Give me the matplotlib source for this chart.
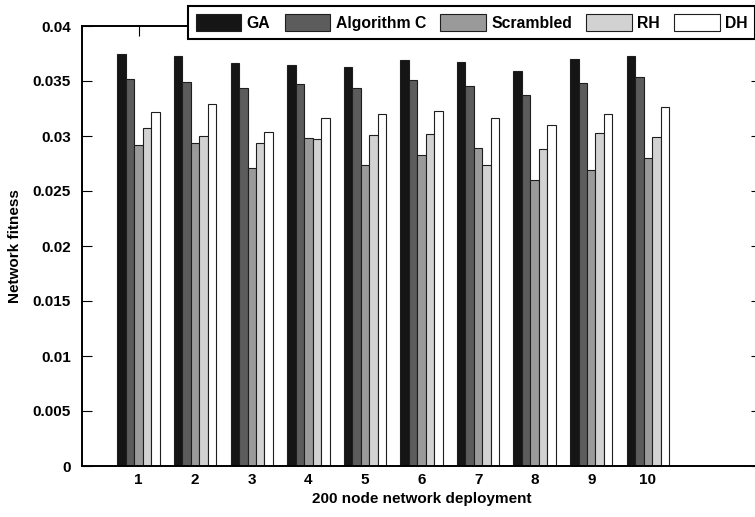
import numpy as np
import matplotlib
matplotlib.use("Agg")
import matplotlib.pyplot as plt

# Network fitness values for 10 deployments of a 200 node network
deployments = [1, 2, 3, 4, 5, 6, 7, 8, 9, 10]
ga = [0.0375, 0.0373, 0.0366, 0.0365, 0.0363, 0.0369, 0.0367, 0.0359, 0.0370, 0.0373]
alg_c = [0.0352, 0.0349, 0.0344, 0.0347, 0.0344, 0.0351, 0.0345, 0.0337, 0.0348, 0.0354]
scrambled = [0.0292, 0.0294, 0.0271, 0.0298, 0.0274, 0.0283, 0.0289, 0.0260, 0.0269, 0.0280]
rh = [0.0307, 0.0300, 0.0294, 0.0297, 0.0301, 0.0302, 0.0274, 0.0288, 0.0303, 0.0299]
dh = [0.0322, 0.0329, 0.0304, 0.0316, 0.0320, 0.0323, 0.0316, 0.0310, 0.0320, 0.0326]

series = [ga, alg_c, scrambled, rh, dh]
labels = ["GA", "Algorithm C", "Scrambled", "RH", "DH"]
colors = ["#151515", "#5c5c5c", "#9a9a9a", "#d2d2d2", "#ffffff"]

plt.rcParams['font.family'] = ['Liberation Sans', 'DejaVu Sans']
plt.rcParams['font.weight'] = 'bold'

fig = plt.figure(figsize=(7.55, 5.17), dpi=100)
ax = fig.add_axes([82 / 755, 1 - 466 / 517, 679 / 755, 440 / 517])

# Draw the grouped bars
width = 0.15
x = np.array(deployments)
for i, (vals, lab, col) in enumerate(zip(series, labels, colors)):
    offset = (i - 2) * width
    ax.bar(x + offset, vals, width, color=col, edgecolor="#1e1e1e",
           linewidth=0.8, label=lab)

ax.set_xlim(0, 12)
ax.set_ylim(0, 0.04)
ax.set_xticks(deployments)
ax.set_xticklabels([str(d) for d in deployments])
ax.set_yticks(np.arange(0, 0.0401, 0.005))
ax.set_yticklabels(["0", "0.005", "0.01", "0.015", "0.02", "0.025", "0.03", "0.035", "0.04"])
ax.set_axisbelow(True)
ax.tick_params(axis='both', direction='in', length=7, width=0.8,
               labelsize=11, top=True, right=True)
ax.tick_params(axis='y', pad=8)
ax.tick_params(axis='x', pad=5)
for s in ax.spines.values():
    s.set_linewidth(1.4)

ax.set_xlabel("200 node network deployment", fontsize=11, fontweight='bold', labelpad=4)
ax.set_ylabel("Network fitness", fontsize=11, fontweight='bold', labelpad=8)

# Legend in a single row across the top
leg = fig.legend(loc='upper left', bbox_to_anchor=(188 / 755, 1 - 6 / 517),
                 ncol=5, fontsize=11.3, frameon=True, fancybox=False,
                 handlelength=2.9, handleheight=1.3, handletextpad=0.35,
                 columnspacing=0.9, borderpad=0.5, borderaxespad=0)
leg.get_frame().set_edgecolor('black')
leg.get_frame().set_linewidth(1.5)
leg.get_frame().set_alpha(1)
for t in leg.get_texts():
    t.set_fontweight('bold')

fig.savefig("out.png", dpi=100)
